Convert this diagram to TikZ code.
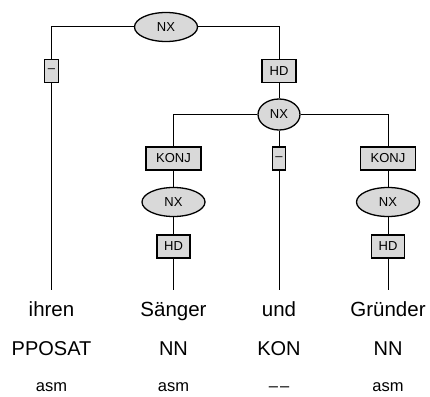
\documentclass[tikz,border=0pt]{standalone}
\usepackage{fontspec}
\setmainfont{Liberation Sans}
\usetikzlibrary{shapes.geometric}

\begin{document}
\begin{tikzpicture}[x=1pt, y=-1pt, line width=1pt,
    cat/.style={ellipse, draw, line width=1.3pt, fill=gray!30, inner sep=0pt, font=\fontsize{13}{13}\selectfont},
    fn/.style={rectangle, draw, line width=1.3pt, fill=gray!30, inner sep=0pt, minimum height=23pt, font=\fontsize{13}{13}\selectfont},
    word/.style={anchor=north, inner sep=0pt, text height=26pt, text depth=5pt, font=\fontsize{20.5}{20.5}\selectfont},
    postag/.style={anchor=base, font=\fontsize{20}{20}\selectfont},
    morph/.style={anchor=base, font=\fontsize{16.5}{16.5}\selectfont}]

    \useasboundingbox (0,0) rectangle (430,396);

    % Nodes
    \node[cat, minimum width=63pt, minimum height=29pt] (NXtop) at (166,27) {NX};
    \node[fn, minimum width=14pt] (Dleft) at (51.5,71) {--};
    \node[fn, minimum width=34pt] (HDtop) at (279,71) {HD};
    \node[cat, minimum width=42pt, minimum height=31pt] (NXmid) at (279,114.5) {NX};
    \node[fn, minimum width=55pt] (KONJa) at (173.5,158.5) {KONJ};
    \node[fn, minimum width=13pt] (Dmid) at (279,158.5) {--};
    \node[fn, minimum width=55pt] (KONJb) at (388,158.5) {KONJ};
    \node[cat, minimum width=63pt, minimum height=29pt] (NXa) at (173.5,202) {NX};
    \node[cat, minimum width=63pt, minimum height=29pt] (NXb) at (388,202) {NX};
    \node[fn, minimum width=33pt] (HDa) at (173.5,246.5) {HD};
    \node[fn, minimum width=33pt] (HDb) at (388,246.5) {HD};

    % Words, tags, morphology
    \node[word] (ihren) at (51.5,290) {ihren};
    \node[word] (saenger) at (173.5,290) {Sänger};
    \node[word] (und) at (279,290) {und};
    \node[word] (gruender) at (388,290) {Gründer};
    \node[postag] (posA) at (51.5,355.5) {PPOSAT};
    \node[postag] (posB) at (173.5,355.5) {NN};
    \node[postag] (posC) at (279,355.5) {KON};
    \node[postag] (posD) at (388,355.5) {NN};
    \node[morph] (morA) at (51.5,391) {asm};
    \node[morph] (morB) at (173.5,391) {asm};
    \node[morph] (morC) at (279,391) {--\kern2pt--};
    \node[morph] (morD) at (388,391) {asm};

    % Edges
    \draw (NXtop) -| (Dleft);
    \draw (Dleft) -- (ihren);
    \draw (NXtop) -| (HDtop);
    \draw (HDtop) -- (NXmid);
    \draw (NXmid) -| (KONJa);
    \draw (NXmid) -| (KONJb);
    \draw (NXmid) -- (Dmid);
    \draw (Dmid) -- (und);
    \draw (KONJa) -- (NXa);
    \draw (NXa) -- (HDa);
    \draw (HDa) -- (saenger);
    \draw (KONJb) -- (NXb);
    \draw (NXb) -- (HDb);
    \draw (HDb) -- (gruender);
\end{tikzpicture}
\end{document}
